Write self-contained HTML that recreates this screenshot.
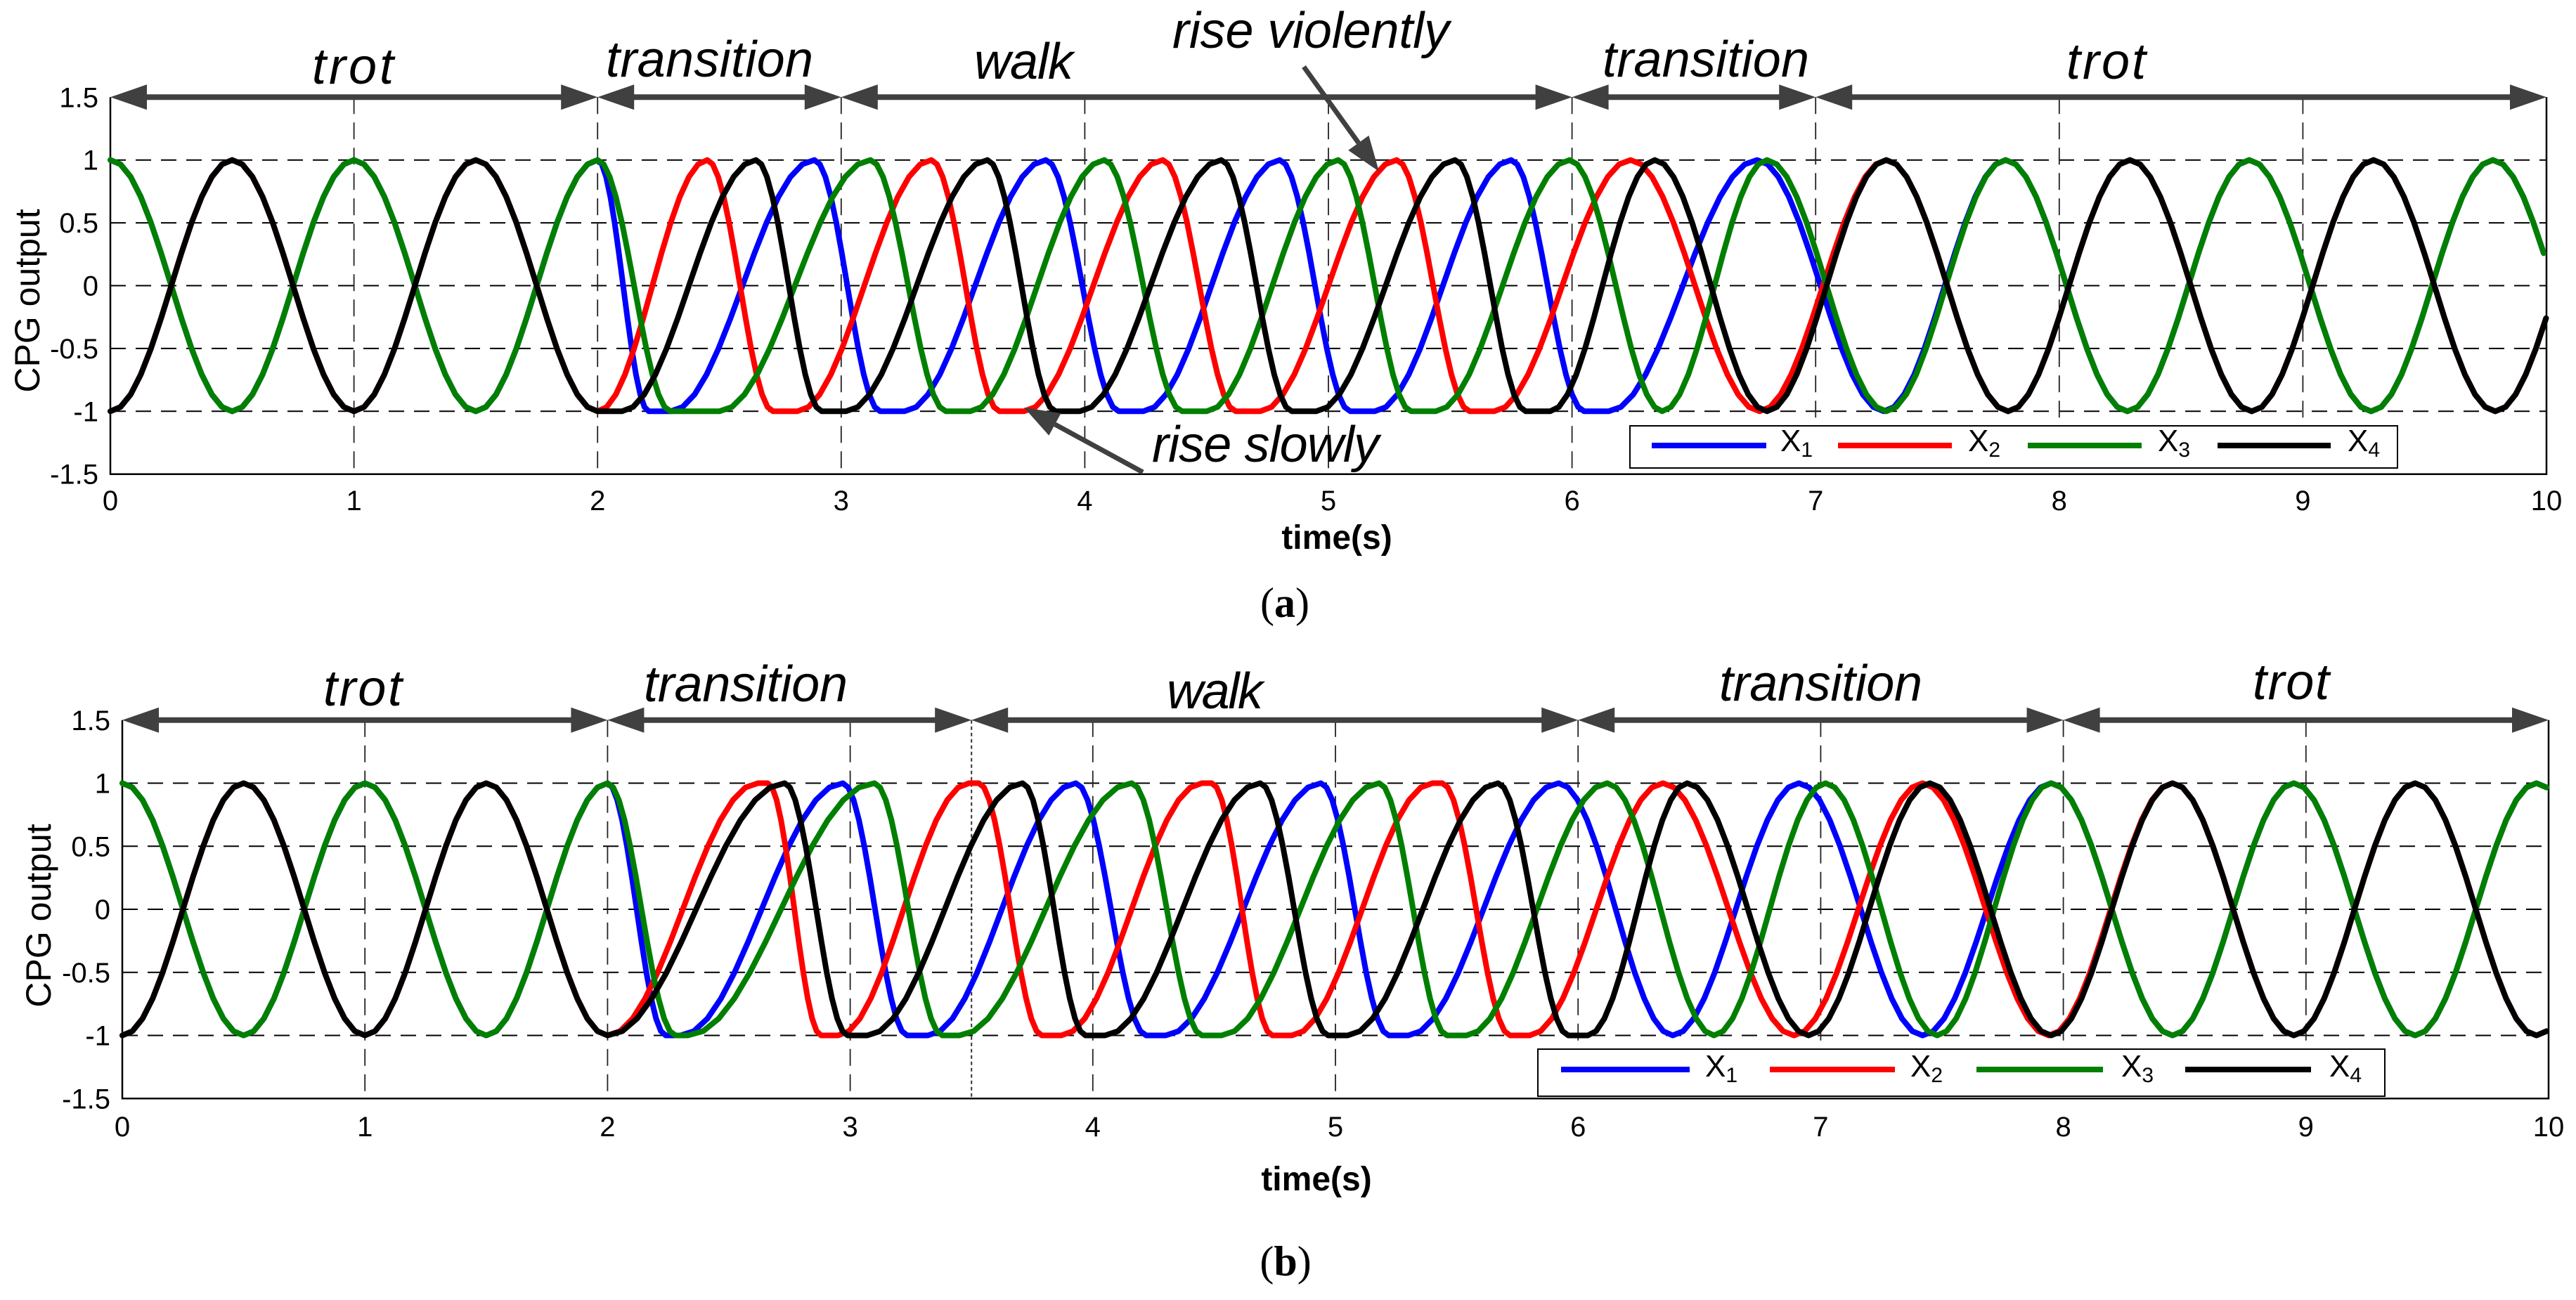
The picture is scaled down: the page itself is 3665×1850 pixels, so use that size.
<!DOCTYPE html>
<html><head><meta charset="utf-8"><style>
html,body{margin:0;padding:0;background:#fff;}
svg{display:block;}
text{font-family:"Liberation Sans",sans-serif;fill:#000;}
.it{font-style:italic;font-size:72px;}
.tk{font-size:40px;}
.yl{font-size:50px;}
.xl{font-size:48px;font-weight:bold;}
.cap{font-family:"Liberation Serif",serif;font-size:60px;}
.lg{font-size:44px;}
.sb{font-size:30px;}
</style></head><body>
<svg id="s" width="3665" height="1850" viewBox="0 0 3665 1850" xmlns="http://www.w3.org/2000/svg">
<rect width="3665" height="1850" fill="#fff"/>
<g id="grid"></g>
<g id="curves" fill="none" stroke-linejoin="round" stroke-linecap="round"></g>
<g id="arrows"></g>
<text class="it" x="444" y="119" textLength="116">trot</text>
<text class="it" x="862" y="109" textLength="295">transition</text>
<text class="it" x="1386" y="112" textLength="141">walk</text>
<text class="it" x="1668" y="68" textLength="394">rise violently</text>
<text class="it" x="1639" y="657" textLength="323">rise slowly</text>
<text class="it" x="2280" y="109" textLength="294">transition</text>
<text class="it" x="2940" y="112" textLength="113">trot</text>
<text class="yl" transform="translate(56,428) rotate(-90)" text-anchor="middle">CPG output</text>
<text class="xl" x="1902" y="781" text-anchor="middle">time(s)</text>
<text class="cap" x="1828" y="878" text-anchor="middle">(<tspan font-weight="bold">a</tspan>)</text>
<text class="it" x="460" y="1004" textLength="112">trot</text>
<text class="it" x="916" y="998" textLength="290">transition</text>
<text class="it" x="1660" y="1008" textLength="137">walk</text>
<text class="it" x="2446" y="997" textLength="289">transition</text>
<text class="it" x="3205" y="995" textLength="109">trot</text>
<text class="yl" transform="translate(72,1303) rotate(-90)" text-anchor="middle">CPG output</text>
<text class="xl" x="1873" y="1694" text-anchor="middle">time(s)</text>
<text class="cap" x="1829" y="1815" text-anchor="middle">(<tspan font-weight="bold">b</tspan>)</text>
<rect x="2319" y="606" width="1092" height="60" fill="#fff" stroke="#000" stroke-width="2"/>
<line x1="2350" y1="634" x2="2513" y2="634" stroke="#0000ff" stroke-width="8"/>
<line x1="2615" y1="634" x2="2777" y2="634" stroke="#ff0000" stroke-width="8"/>
<line x1="2885" y1="634" x2="3047" y2="634" stroke="#007f00" stroke-width="8"/>
<line x1="3155" y1="634" x2="3316" y2="634" stroke="#000" stroke-width="8"/>
<text class="lg" x="2533" y="642">X<tspan class="sb" dy="8">1</tspan></text>
<text class="lg" x="2800" y="642">X<tspan class="sb" dy="8">2</tspan></text>
<text class="lg" x="3070" y="642">X<tspan class="sb" dy="8">3</tspan></text>
<text class="lg" x="3340" y="642">X<tspan class="sb" dy="8">4</tspan></text>
<rect x="2188" y="1493" width="1205" height="67" fill="#fff" stroke="#000" stroke-width="2"/>
<line x1="2221" y1="1522" x2="2404" y2="1522" stroke="#0000ff" stroke-width="8"/>
<line x1="2518" y1="1522" x2="2696" y2="1522" stroke="#ff0000" stroke-width="8"/>
<line x1="2812" y1="1522" x2="2992" y2="1522" stroke="#007f00" stroke-width="8"/>
<line x1="3109" y1="1522" x2="3288" y2="1522" stroke="#000" stroke-width="8"/>
<text class="lg" x="2426" y="1532">X<tspan class="sb" dy="8">1</tspan></text>
<text class="lg" x="2718" y="1532">X<tspan class="sb" dy="8">2</tspan></text>
<text class="lg" x="3018" y="1532">X<tspan class="sb" dy="8">3</tspan></text>
<text class="lg" x="3314" y="1532">X<tspan class="sb" dy="8">4</tspan></text>
<g id="ticks"></g>
</svg>
<script>
(function(){
var NS="http://www.w3.org/2000/svg";
function el(parent,name,attrs,txt){var e=document.createElementNS(NS,name);for(var k in attrs)e.setAttribute(k,attrs[k]);if(txt!=null)e.textContent=txt;document.getElementById(parent).appendChild(e);return e;}
var P=[{x0:157,px:346.6,y0:406.5,py:178.8,lblR:140,xb:726,segs:[0,2,3,6,7,10],dot:null},
       {x0:174,px:345.2,y0:1294,py:179.5,lblR:157,xb:1617,segs:[0,2,3.5,6,8,10],dot:3.5}];
var trotG=[[0,1],[0.5,-1],[1,1],[1.5,-1]], trotB=[[0,-1],[0.5,1],[1,-1],[1.5,1]];
var A={
 blue:trotG.concat([[2,1],[2.21,-1],[2.30,-1],[2.89,1],[3.16,-1],[3.26,-1],[3.84,1],[4.14,-1],[4.24,-1],[4.80,1],[5.09,-1],[5.19,-1],[5.75,1],[6.05,-1],[6.15,-1],[6.76,1],[7.28,-1],[7.78,1],[8.28,-1],[8.78,1],[9.28,-1],[9.78,1],[10.28,-1]]),
 red:trotB.concat([[2,-1],[2.45,1],[2.72,-1],[2.82,-1],[3.37,1],[3.65,-1],[3.75,-1],[4.32,1],[4.62,-1],[4.72,-1],[5.28,1],[5.58,-1],[5.68,-1],[6.24,1],[6.77,-1],[7.29,1],[7.79,-1],[8.29,1],[8.79,-1],[9.29,1],[9.79,-1],[10.29,1]]),
 green:trotG.concat([[2,1],[2.30,-1],[2.50,-1],[3.12,1],[3.43,-1],[3.53,-1],[4.08,1],[4.40,-1],[4.50,-1],[5.04,1],[5.34,-1],[5.44,-1],[5.99,1],[6.37,-1],[6.80,1],[7.29,-1],[7.78,1],[8.28,-1],[8.78,1],[9.28,-1],[9.78,1],[10.28,-1]]),
 black:trotB.concat([[2,-1],[2.1,-1],[2.65,1],[2.92,-1],[3.02,-1],[3.60,1],[3.88,-1],[3.98,-1],[4.56,1],[4.85,-1],[4.95,-1],[5.52,1],[5.81,-1],[5.91,-1],[6.34,1],[6.80,-1],[7.29,1],[7.79,-1],[8.29,1],[8.79,-1],[9.29,1],[9.79,-1],[10.29,1]])
};
var B={
 blue:trotG.concat([[2,1],[2.24,-1],[2.30,-1],[2.97,1],[3.235,-1],[3.32,-1],[3.93,1],[4.22,-1],[4.30,-1],[4.94,1],[5.22,-1],[5.30,-1],[5.92,1],[6.39,-1],[6.91,1],[7.42,-1],[7.95,1],[8.45,-1],[8.95,1],[9.45,-1],[9.95,1],[10.45,-1]]),
 red:trotB.concat([[2,-1],[2.62,1],[2.66,1],[2.88,-1],[2.95,-1],[3.49,1],[3.53,1],[3.79,-1],[3.87,-1],[4.45,1],[4.49,1],[4.74,-1],[4.82,-1],[5.40,1],[5.44,1],[5.72,-1],[5.80,-1],[6.35,1],[6.89,-1],[7.42,1],[7.94,-1],[8.45,1],[8.95,-1],[9.45,1],[9.95,-1],[10.45,1]]),
 green:trotG.concat([[2,1],[2.28,-1],[2.33,-1],[3.10,1],[3.38,-1],[3.45,-1],[4.16,1],[4.45,-1],[4.53,-1],[5.18,1],[5.46,-1],[5.54,-1],[6.12,1],[6.56,-1],[7.02,1],[7.48,-1],[7.95,1],[8.45,-1],[8.95,1],[9.45,-1],[9.95,1],[10.45,-1]]),
 black:trotB.concat([[2,-1],[2.73,1],[2.99,-1],[3.07,-1],[3.71,1],[3.97,-1],[4.05,-1],[4.69,1],[4.97,-1],[5.05,-1],[5.67,1],[5.96,-1],[6.04,-1],[6.45,1],[6.95,-1],[7.45,1],[7.95,-1],[8.45,1],[8.95,-1],[9.45,1],[9.95,-1],[10.45,1]])
};
var cols={blue:"#0000ff",red:"#ff0000",green:"#007f00",black:"#000000"};
[A,B].forEach(function(D,i){
 var p=P[i];
 function X(t){return p.x0+t*p.px;} function Y(v){return p.y0-v*p.py;}
 [1,0.5,0,-0.5,-1].forEach(function(v){el("grid","line",{x1:X(0),x2:X(10),y1:Y(v),y2:Y(v),stroke:"#000","stroke-width":2,"stroke-dasharray":"22 14"});});
 for(var t=1;t<10;t++)el("grid","line",{x1:X(t),x2:X(t),y1:Y(1.5),y2:Y(-1.5),stroke:"#222","stroke-width":1.8,"stroke-dasharray":"24 12"});
 if(p.dot!=null)el("grid","line",{x1:X(p.dot),x2:X(p.dot),y1:Y(1.5),y2:Y(-1.5),stroke:"#333","stroke-width":2,"stroke-dasharray":"5 4"});
 el("grid","path",{d:"M"+X(0)+" "+Y(1.5)+"V"+Y(-1.5)+"H"+X(10)+"V"+Y(1.5),fill:"none",stroke:"#000","stroke-width":2.5});
 [1.5,1,0.5,0,-0.5,-1,-1.5].forEach(function(v){el("ticks","text",{"class":"tk",x:p.lblR,y:Y(v)+14,"text-anchor":"end"},String(v));});
 for(var t=0;t<=10;t++)el("ticks","text",{"class":"tk",x:X(t),y:p.xb,"text-anchor":"middle"},String(t));
 ["blue","red","green","black"].forEach(function(c){
  var pts=D[c],d="";
  for(var k=0;k<pts.length-1;k++){
   var a=pts[k],b=pts[k+1];
   for(var s=0;s<=12;s++){
    var f=s/12,t=a[0]+(b[0]-a[0])*f;
    if(t>10)break;
    var v=a[1]+(b[1]-a[1])*(1-Math.cos(Math.PI*f))/2;
    d+=(d?"L":"M")+X(t).toFixed(1)+" "+Y(v).toFixed(1);
   }
   if(b[0]>10)break;
  }
  el("curves","path",{d:d,stroke:cols[c],"stroke-width":8});
 });
 var ya=Y(1.5);
 for(var k=0;k<p.segs.length-1;k++){
  var xa=X(p.segs[k]),xb=X(p.segs[k+1]);
  el("arrows","line",{x1:xa+40,x2:xb-40,y1:ya,y2:ya,stroke:"#404040","stroke-width":8});
  el("arrows","polygon",{points:xa+","+ya+" "+(xa+52)+","+(ya-18)+" "+(xa+52)+","+(ya+18),fill:"#404040"});
  el("arrows","polygon",{points:xb+","+ya+" "+(xb-52)+","+(ya-18)+" "+(xb-52)+","+(ya+18),fill:"#404040"});
 }
});
function ann(x1,y1,x2,y2){
 var dx=x2-x1,dy=y2-y1,L=Math.sqrt(dx*dx+dy*dy),ux=dx/L,uy=dy/L,bx=x2-ux*50,by=y2-uy*50;
 el("arrows","line",{x1:x1,y1:y1,x2:bx,y2:by,stroke:"#404040","stroke-width":7});
 el("arrows","polygon",{points:x2+","+y2+" "+(bx-uy*18)+","+(by+ux*18)+" "+(bx+uy*18)+","+(by-ux*18),fill:"#404040"});
}
ann(1855,95,1962,244);
ann(1626,672,1457,580);
})();
</script>
</body></html>
